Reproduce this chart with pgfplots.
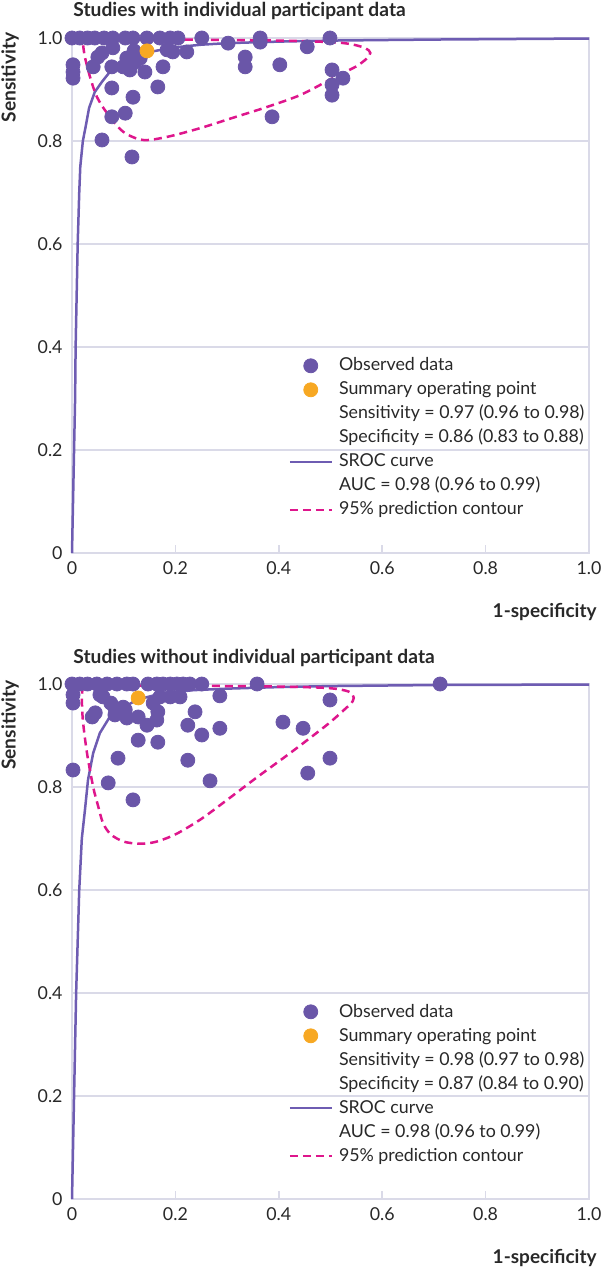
\documentclass[border=0pt]{standalone}
\usepackage{fontspec}
\setmainfont{Lato}
\usepackage{pgfplots}
\pgfplotsset{compat=1.18}
\usepackage{pgfplotstable}

\definecolor{obsc}{RGB}{106,86,168}
\definecolor{srocc}{RGB}{110,92,178}
\definecolor{orc}{RGB}{247,168,35}
\definecolor{pinkc}{RGB}{222,22,140}
\definecolor{gridc}{RGB}{218,218,232}
\definecolor{labc}{RGB}{40,40,40}

% ---------------- top panel data ----------------
\pgfplotstableread{
x y
0 1.0
0.015 1.0
0.030 1.0
0.044 1.0
0.062 1.0
0.079 1.0
0.103 1.0
0.118 1.0
0.145 1.0
0.170 1.0
0.190 1.0
0.205 1.0
0.251 1.0
0.364 1.0
0.499 1.0
0.302 0.990
0.364 0.992
0.002 0.948
0.002 0.934
0.002 0.922
0.041 0.944
0.050 0.963
0.058 0.971
0.079 0.981
0.077 0.944
0.099 0.944
0.112 0.938
0.122 0.953
0.132 0.961
0.141 0.934
0.106 0.961
0.120 0.975
0.176 0.944
0.184 0.977
0.195 0.973
0.222 0.973
0.077 0.903
0.118 0.885
0.166 0.905
0.077 0.847
0.103 0.854
0.058 0.802
0.116 0.769
0.335 0.963
0.335 0.944
0.402 0.948
0.387 0.847
0.455 0.983
0.503 0.938
0.503 0.909
0.503 0.889
0.524 0.922
}\obsA

\pgfplotstableread{
x y
0 0
0.002 0.1
0.004 0.2
0.006 0.3
0.007 0.4
0.009 0.5
0.011 0.6
0.014 0.7
0.016 0.75
0.021 0.8
0.027 0.831
0.033 0.864
0.044 0.895
0.058 0.915
0.073 0.934
0.100 0.955
0.145 0.972
0.200 0.982
0.250 0.987
0.300 0.990
0.400 0.993
0.500 0.995
0.700 0.997
1.000 0.999
}\srocA

\pgfplotstableread{
x y
0.021 0.990
0.029 0.996
0.100 0.997
0.200 0.997
0.300 0.996
0.400 0.995
0.500 0.992
0.540 0.988
0.568 0.980
0.577 0.971
0.570 0.960
0.550 0.945
0.520 0.930
0.495 0.917
0.441 0.889
0.377 0.866
0.311 0.845
0.248 0.825
0.184 0.808
0.137 0.802
0.099 0.818
0.068 0.854
0.048 0.886
0.035 0.924
0.025 0.963
0.021 0.990
}\contA

% ---------------- bottom panel data ----------------
\pgfplotstableread{
x y
0 1.0
0.015 1.0
0.030 1.0
0.048 1.0
0.068 1.0
0.087 1.0
0.106 1.0
0.118 1.0
0.147 1.0
0.164 1.0
0.176 1.0
0.190 1.0
0.203 1.0
0.215 1.0
0.228 1.0
0.251 1.0
0.358 1.0
0.712 1.0
0.002 0.979
0.002 0.963
0.054 0.979
0.039 0.936
0.045 0.944
0.060 0.975
0.075 0.963
0.083 0.953
0.083 0.940
0.099 0.955
0.103 0.950
0.106 0.934
0.128 0.936
0.145 0.920
0.164 0.930
0.166 0.946
0.157 0.963
0.170 0.975
0.190 0.975
0.209 0.975
0.286 0.977
0.238 0.946
0.224 0.920
0.251 0.901
0.286 0.914
0.128 0.891
0.166 0.887
0.224 0.852
0.089 0.856
0.002 0.833
0.070 0.808
0.118 0.775
0.267 0.812
0.408 0.926
0.447 0.914
0.456 0.827
0.499 0.969
0.499 0.856
}\obsB

\pgfplotstableread{
x y
0 0
0.002 0.1
0.004 0.2
0.006 0.3
0.008 0.4
0.011 0.5
0.014 0.6
0.019 0.7
0.025 0.755
0.031 0.814
0.041 0.866
0.054 0.905
0.073 0.936
0.099 0.955
0.128 0.970
0.170 0.981
0.234 0.988
0.300 0.991
0.400 0.994
0.500 0.996
0.700 0.998
1.000 0.999
}\srocB

\pgfplotstableread{
x y
0.021 0.992
0.030 0.996
0.100 0.997
0.200 0.997
0.300 0.996
0.400 0.995
0.480 0.993
0.515 0.990
0.538 0.984
0.545 0.973
0.540 0.962
0.532 0.955
0.510 0.935
0.486 0.915
0.422 0.866
0.358 0.819
0.300 0.775
0.250 0.738
0.200 0.708
0.160 0.693
0.130 0.690
0.100 0.694
0.075 0.708
0.060 0.730
0.050 0.765
0.041 0.800
0.029 0.866
0.021 0.930
0.019 0.975
0.021 0.992
}\contB

\pgfplotsset{
  srocaxis/.style={
    scale only axis, width=258.5pt, height=257.5pt,
    xmin=0, xmax=1, ymin=0, ymax=1,
    clip=false,
    axis line style={draw=gridc, line width=0.8pt},
    xtick={0,0.2,0.4,0.6,0.8,1}, xticklabels={0,0.2,0.4,0.6,0.8,1.0},
    ytick={0,0.2,0.4,0.6,0.8,1}, yticklabels={0,0.2,0.4,0.6,0.8,1.0},
    ymajorgrids, grid style={draw=gridc, line width=0.8pt},
    tick align=inside, tick pos=left,
    major tick length=4pt,
    x tick style={draw=gridc, line width=0.8pt},
    y tick style={draw=none},
    tick label style={font=\fontsize{8.9}{10}\selectfont, text=labc},
    xticklabel style={yshift=-1pt},
    yticklabel style={xshift=-1.2pt},
    legend style={at={(0.418,0.3806)}, anchor=north west, draw=none, fill=none,
      inner sep=0pt, row sep=3.6pt, column sep=3pt,
      font=\fontsize{8.9}{10}\selectfont, text=labc,
      nodes={inner sep=0pt, text height=6.8pt, text depth=1.6pt}},
    legend cell align=left,
    legend image code/.code={\draw[mark repeat=2,mark phase=2,#1] plot coordinates {(0pt,0pt) (10.5pt,0pt) (21pt,0pt)};},
  },
  obsmark/.style={only marks, mark=*, mark size=3.5pt, mark options={draw=obsc, fill=obsc}},
  ormark/.style={only marks, mark=*, mark size=3.5pt, mark options={draw=orc, fill=orc}},
  srocline/.style={srocc, line width=1.25pt, no marks},
  contline/.style={pinkc, line width=1.25pt, no marks, dash pattern=on 4pt off 2.5pt},
}

\begin{document}
\begin{tikzpicture}
\path[use as bounding box] (0,0) rectangle (301pt,-634.5pt);

% ---------- top panel ----------
\begin{axis}[srocaxis, at={(36pt,-276.5pt)}, anchor=south west]
\addplot[srocline, forget plot] table[x=x,y=y] {\srocA};
\addplot[obsmark, forget plot] table[x=x,y=y] {\obsA};
\addplot[ormark, forget plot] coordinates {(0.145,0.975)};
\addplot[contline, smooth, forget plot] table[x=x,y=y] {\contA};
\addlegendimage{obsmark}
\addlegendentry{Observed data}
\addlegendimage{ormark}
\addlegendentry{Summary operating point}
\addlegendimage{empty legend}
\addlegendentry{Sensitivity = 0.97 (0.96 to 0.98)}
\addlegendimage{empty legend}
\addlegendentry{Specificity = 0.86 (0.83 to 0.88)}
\addlegendimage{srocline}
\addlegendentry{SROC curve}
\addlegendimage{empty legend}
\addlegendentry{AUC = 0.98 (0.96 to 0.99)}
\addlegendimage{contline}
\addlegendentry{95\% prediction contour}
\end{axis}
\node[anchor=base west, inner sep=0pt, font=\bfseries\fontsize{9.6}{11}\selectfont, text=labc] at (36.5pt,-8.5pt) {Studies with individual participant data};
\node[rotate=90, anchor=center, inner sep=0pt, font=\bfseries\fontsize{9.6}{11}\selectfont, text=labc] at (5pt,-38.75pt) {Sensitivity};
\node[anchor=base east, inner sep=0pt, font=\bfseries\fontsize{9.5}{11}\selectfont, text=labc] at (298.5pt,-308.5pt) {1-specificity};

% ---------- bottom panel ----------
\begin{axis}[srocaxis, at={(36pt,-599.5pt)}, anchor=south west]
\addplot[srocline, forget plot] table[x=x,y=y] {\srocB};
\addplot[obsmark, forget plot] table[x=x,y=y] {\obsB};
\addplot[ormark, forget plot] coordinates {(0.128,0.973)};
\addplot[contline, smooth, forget plot] table[x=x,y=y] {\contB};
\addlegendimage{obsmark}
\addlegendentry{Observed data}
\addlegendimage{ormark}
\addlegendentry{Summary operating point}
\addlegendimage{empty legend}
\addlegendentry{Sensitivity = 0.98 (0.97 to 0.98)}
\addlegendimage{empty legend}
\addlegendentry{Specificity = 0.87 (0.84 to 0.90)}
\addlegendimage{srocline}
\addlegendentry{SROC curve}
\addlegendimage{empty legend}
\addlegendentry{AUC = 0.98 (0.96 to 0.99)}
\addlegendimage{contline}
\addlegendentry{95\% prediction contour}
\end{axis}
\node[anchor=base west, inner sep=0pt, font=\bfseries\fontsize{9.6}{11}\selectfont, text=labc] at (36.5pt,-331.5pt) {Studies without individual participant data};
\node[rotate=90, anchor=center, inner sep=0pt, font=\bfseries\fontsize{9.6}{11}\selectfont, text=labc] at (5pt,-362.5pt) {Sensitivity};
\node[anchor=base east, inner sep=0pt, font=\bfseries\fontsize{9.5}{11}\selectfont, text=labc] at (298.5pt,-631.5pt) {1-specificity};
\end{tikzpicture}
\end{document}
